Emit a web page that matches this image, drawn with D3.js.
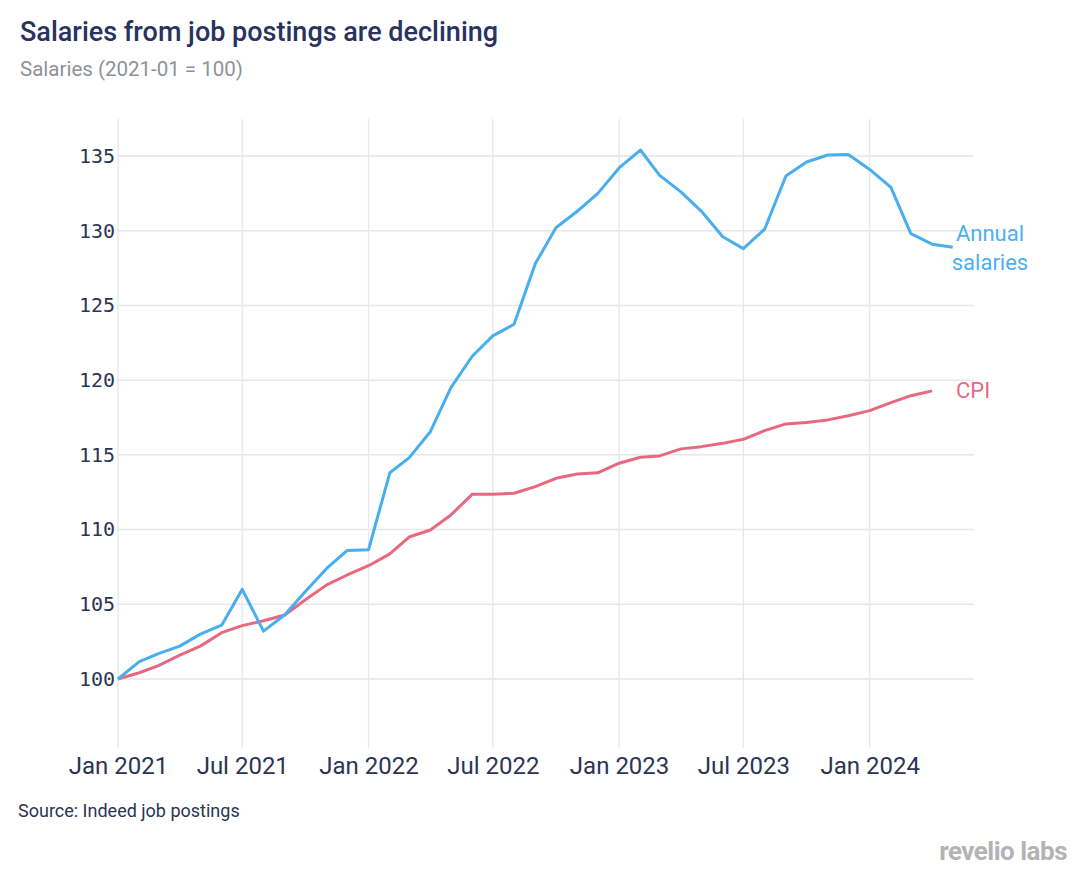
<!DOCTYPE html>
<html><head><meta charset="utf-8">
<script src="https://cdn.jsdelivr.net/npm/d3@7"></script>
<style>body{margin:0;background:#fff;} svg{display:block;}</style>
</head><body>
<svg id="chart" width="1086" height="880"></svg>
<script>
const months = d3.range(41).map(i => new Date(2021, i, 1));
const salaries = [100, 101.16, 101.7, 102.2, 103.0, 103.6, 106.0, 103.2, 104.3, 105.85,
  107.4, 108.6, 108.65, 113.8, 114.8, 116.55, 119.5, 121.6, 122.96, 123.74,
  127.8, 130.2, 131.3, 132.5, 134.2, 135.4, 133.7, 132.6, 131.3, 129.6,
  128.8, 130.1, 133.66, 134.6, 135.07, 135.1, 134.1, 132.9, 129.8, 129.1, 128.9];
const cpi = [100, 100.42, 100.9, 101.6, 102.2, 103.1, 103.57, 103.9, 104.28, 105.3,
  106.3, 106.96, 107.58, 108.37, 109.5, 109.97, 110.98, 112.36, 112.36, 112.43,
  112.87, 113.43, 113.72, 113.8, 114.44, 114.84, 114.93, 115.4, 115.55, 115.77,
  116.04, 116.62, 117.07, 117.16, 117.34, 117.62, 117.96, 118.5, 118.96, 119.28];
const yTicks = [100, 105, 110, 115, 120, 125, 130, 135];
const xTicks = d3.range(7).map(i => new Date(2021, i * 6, 1));
const xTickLabels = ["Jan 2021", "Jul 2021", "Jan 2022", "Jul 2022", "Jan 2023", "Jul 2023", "Jan 2024"];
const seriesLabels = {salaries: ["Annual", "salaries"], cpi: ["CPI"]};

const svg = d3.select("#chart");
const x = d3.scaleTime().domain([new Date(2021, 0, 1), new Date(2024, 5, 1)]).range([118, 974]);
const y = d3.scaleLinear().domain([100, 135]).range([679, 156]);
const gridTop = y(137.48), gridBottom = y(95.38);

// title
svg.append("text").attr("x", 20).attr("y", 41).text("Salaries from job postings are declining")
  .attr("font-family", "Roboto").attr("font-weight", 500).attr("font-size", 27).attr("fill", "#28335e");
svg.append("text").attr("x", 20).attr("y", 76).text("Salaries (2021-01 = 100)")
  .attr("font-family", "Roboto").attr("font-size", 20.5).attr("fill", "#8e9297");

// grid
const grid = svg.append("g");
grid.selectAll("line.h").data(yTicks).join("line").attr("class", "h")
  .attr("x1", 117).attr("x2", 974).attr("y1", d => y(d)).attr("y2", d => y(d))
  .attr("stroke", "#e6e6eb").attr("stroke-width", 1.5);
grid.selectAll("line.v").data(xTicks).join("line").attr("class", "v")
  .attr("x1", d => x(d)).attr("x2", d => x(d)).attr("y1", gridTop).attr("y2", gridBottom)
  .attr("stroke", "#e6e6eb").attr("stroke-width", 1.3);

// axes
const yAxis = d3.axisLeft(y).tickValues(yTicks).tickSize(0).tickPadding(0);
const gy = svg.append("g").attr("transform", "translate(115,0)").call(yAxis);
gy.select(".domain").remove();
gy.selectAll("text").attr("font-family", "DejaVu Sans Mono").attr("font-size", 20).attr("fill", "#2c3454");

const xAxis = d3.axisBottom(x).tickValues(xTicks).tickFormat((d, i) => xTickLabels[i]).tickSize(0).tickPadding(0);
const gx = svg.append("g").attr("transform", "translate(0,757)").call(xAxis);
gx.select(".domain").remove();
gx.selectAll("text").attr("font-family", "Roboto").attr("font-size", 24).attr("fill", "#2c3454");

// lines
const line = d3.line().x((d, i) => x(months[i])).y(d => y(d));
svg.append("path").datum(cpi).attr("d", line).attr("fill", "none")
  .attr("stroke", "#e8697f").attr("stroke-width", 3).attr("stroke-linejoin", "round");
svg.append("path").datum(salaries).attr("d", line).attr("fill", "none")
  .attr("stroke", "#48aeee").attr("stroke-width", 3).attr("stroke-linejoin", "round");

// labels
const sl = svg.append("text").attr("font-family", "Roboto").attr("font-size", 22).attr("fill", "#4cb0f0")
  .attr("text-anchor", "middle");
seriesLabels.salaries.forEach((t, i) => sl.append("tspan").attr("x", 990).attr("y", 241 + i * 28.6).text(t));
svg.append("text").attr("x", 956).attr("y", 398).text(seriesLabels.cpi[0])
  .attr("font-family", "Roboto").attr("font-size", 22).attr("fill", "#e8697f");

// source and logo
svg.append("text").attr("x", 18).attr("y", 817).text("Source: Indeed job postings")
  .attr("font-family", "Roboto").attr("font-size", 18).attr("fill", "#2c3454");
svg.append("text").attr("x", 1067).attr("y", 860).attr("text-anchor", "end").text("revelio labs")
  .attr("font-family", "Roboto").attr("font-weight", 700).attr("font-size", 26).attr("fill", "#b3b3b3")
  .attr("letter-spacing", -0.5);
</script>
</body></html>
